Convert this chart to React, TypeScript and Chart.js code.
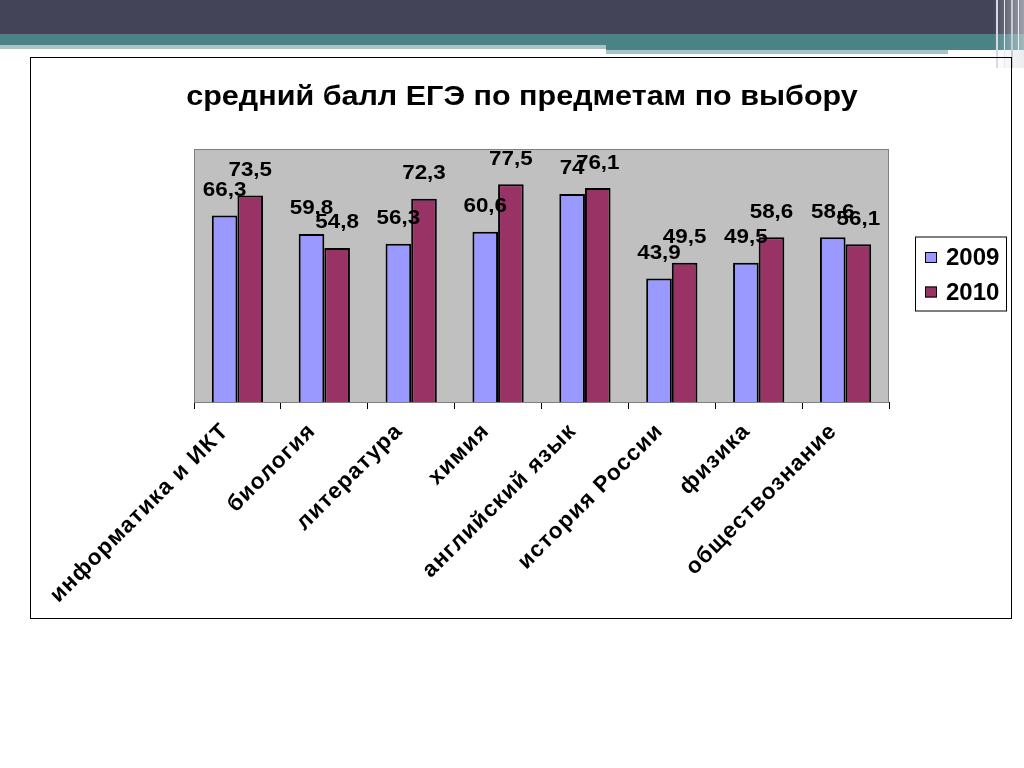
import React, { useEffect, useRef } from "react";
import { Chart, registerables } from "chart.js";

Chart.register(...registerables);

const TITLE = "средний балл ЕГЭ по предметам по выбору";
const categories = [
  "информатика и ИКТ",
  "биология",
  "литература",
  "химия",
  "английский язык",
  "история России",
  "физика",
  "обществознание",
];
const seriesNames = ["2009", "2010"];
const values2009 = [66.3, 59.8, 56.3, 60.6, 74, 43.9, 49.5, 58.6];
const values2010 = [73.5, 54.8, 72.3, 77.5, 76.1, 49.5, 58.6, 56.1];
const colors = ["#9999ff", "#993366"];

const fmt = (v: number) => String(v).replace(".", ",");

const decoPlugin = {
  id: "deco",
  beforeUpdate(chart: any) {
    chart.ctx.letterSpacing = "1.2px";
  },
  beforeDatasetsDraw(chart: any) {
    const { ctx, chartArea: a } = chart;
    ctx.save();
    ctx.fillStyle = "#c0c0c0";
    ctx.fillRect(a.left, a.top, a.right - a.left, a.bottom - a.top);
    ctx.strokeStyle = "#808080";
    ctx.lineWidth = 1;
    ctx.strokeRect(a.left + 0.5, a.top + 0.5, a.right - a.left - 1, a.bottom - a.top);
    ctx.restore();
  },
  afterDraw(chart: any) {
    const { ctx, chartArea: a } = chart;
    ctx.save();
    ctx.letterSpacing = "0px";
    // title
    ctx.save();
    ctx.translate(chart.width / 2 + 1, 39);
    ctx.scale(1.09, 1);
    ctx.fillStyle = "#000";
    ctx.font = "bold 28px 'Liberation Sans', Arial, sans-serif";
    ctx.textAlign = "center";
    ctx.textBaseline = "middle";
    ctx.fillText(TITLE, 0, 0);
    ctx.restore();

    // data labels
    chart.data.datasets.forEach((ds: any, di: number) => {
      const meta = chart.getDatasetMeta(di);
      meta.data.forEach((bar: any, i: number) => {
        ctx.save();
        ctx.translate(bar.x, bar.y - 25);
        ctx.scale(1.12, 1);
        ctx.font = "bold 20px 'Liberation Sans', Arial, sans-serif";
        ctx.textAlign = "center";
        ctx.textBaseline = "middle";
        ctx.fillStyle = "#000";
        ctx.fillText(fmt(ds.data[i]), 0, 0);
        ctx.restore();
      });
    });

    // legend
    const lw = 91;
    const lh = 74;
    const lx = a.right + 26;
    const ly = (a.top + a.bottom) / 2 - 2 - lh / 2;
    ctx.fillStyle = "#fff";
    ctx.fillRect(lx, ly, lw, lh);
    ctx.strokeStyle = "#000";
    ctx.lineWidth = 1;
    ctx.strokeRect(lx + 0.5, ly + 0.5, lw, lh);
    ctx.font = "bold 24px 'Liberation Sans', Arial, sans-serif";
    ctx.textAlign = "left";
    ctx.textBaseline = "middle";
    chart.data.datasets.forEach((ds: any, di: number) => {
      const cy = ly + 21 + di * 34.5;
      ctx.fillStyle = ds.backgroundColor;
      ctx.fillRect(lx + 10, cy - 5.5, 12, 11);
      ctx.strokeStyle = "#000";
      ctx.strokeRect(lx + 10.5, cy - 5, 11, 10);
      ctx.fillStyle = "#000";
      ctx.fillText(ds.label, lx + 31, cy + 1);
    });
    ctx.restore();
  },
};

function ChartBox() {
  const ref = useRef<HTMLCanvasElement>(null);
  useEffect(() => {
    if (!ref.current) return;
    const chart = new Chart(ref.current, {
      type: "bar",
      data: {
        labels: categories,
        datasets: [
          {
            label: seriesNames[0],
            data: values2009,
            backgroundColor: colors[0],
            borderColor: "#000",
            borderWidth: 2,
            categoryPercentage: 0.59,
            barPercentage: 1,
          },
          {
            label: seriesNames[1],
            data: values2010,
            backgroundColor: colors[1],
            borderColor: "#000",
            borderWidth: 2,
            categoryPercentage: 0.59,
            barPercentage: 1,
          },
        ],
      },
      options: {
        responsive: false,
        animation: false,
        layout: { padding: { left: 163, right: 122, top: 91, bottom: 0 } },
        plugins: {
          legend: { display: false },
          title: { display: false },
          tooltip: { enabled: false },
        },
        scales: {
          y: { display: false, min: 0, max: 90 },
          x: {
            afterFit: (scale: any) => {
              scale.height = 216;
            },
            border: { display: true, color: "#000", width: 1 },
            grid: {
              display: true,
              drawOnChartArea: false,
              drawTicks: true,
              tickLength: 7,
              color: "#000",
              offset: true,
            },
            ticks: {
              minRotation: 45,
              maxRotation: 45,
              padding: 9,
              labelOffset: -12,
              color: "#000",
              font: { family: "'Liberation Sans', Arial, sans-serif", size: 22.5, weight: "bold" },
            },
          },
        },
      },
      plugins: [decoPlugin],
    });
    return () => chart.destroy();
  }, []);
  return <canvas ref={ref} width={980} height={560} style={{ width: 980, height: 560, display: "block" }} />;
}

export default function App() {
  return (
    <div style={{ position: "absolute", left: 0, top: 0, width: 1024, height: 768, background: "#fff", overflow: "hidden" }}>
      <div style={{ position: "absolute", left: 0, top: 0, width: 1024, height: 34, background: "#434457" }} />
      <div style={{ position: "absolute", left: 0, top: 34, width: 1024, height: 11, background: "#4a8286" }} />
      <div style={{ position: "absolute", left: 0, top: 45, width: 606, height: 4, background: "#a9c3c6" }} />
      <div style={{ position: "absolute", left: 606, top: 45, width: 418, height: 5, background: "#4a8286" }} />
      <div style={{ position: "absolute", left: 606, top: 50, width: 342, height: 4, background: "#a9c3c6" }} />
      <div style={{ position: "absolute", left: 993, top: 0, width: 31, height: 68, background: "linear-gradient(90deg, rgba(255,255,255,0) 0%, rgba(220,224,228,0.6) 100%)" }} />
      <div style={{ position: "absolute", left: 996, top: 0, width: 2, height: 68, background: "#d8dadf" }} />
      <div style={{ position: "absolute", left: 1004, top: 0, width: 1, height: 68, background: "#e6e8ec" }} />
      <div style={{ position: "absolute", left: 1011, top: 0, width: 2, height: 68, background: "#c8ccd2" }} />
      <div style={{ position: "absolute", left: 1018, top: 0, width: 1, height: 68, background: "#eef0f2" }} />
      <div style={{ position: "absolute", left: 30, top: 57, width: 980, height: 560, border: "1px solid #000" }}>
        <ChartBox />
      </div>
    </div>
  );
}
